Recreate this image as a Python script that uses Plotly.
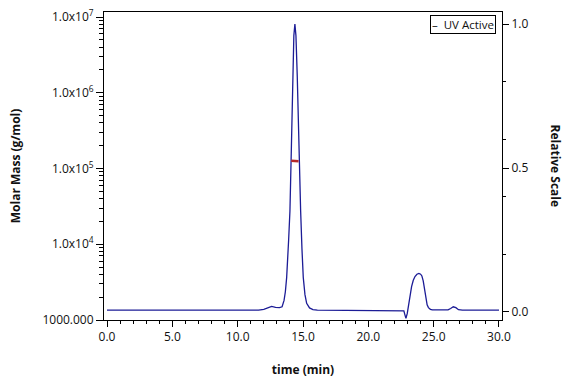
import plotly.graph_objects as go

# UV trace (relative scale, right axis)
uv_time = [0.0, 11.6, 12.0, 12.3, 12.6, 12.9, 13.2, 13.4, 13.55, 13.65, 13.75, 13.9, 14.0,
           14.1, 14.2, 14.3, 14.38, 14.46, 14.56, 14.69, 14.82, 14.92, 15.02, 15.15, 15.28,
           15.5, 15.76, 16.1, 22.6, 22.72, 22.8, 22.88, 22.98, 23.05, 23.18, 23.31, 23.44,
           23.57, 23.72, 23.87, 24.0, 24.1, 24.2, 24.3, 24.4, 24.5, 24.6, 24.75, 24.9, 25.3,
           25.8, 26.1, 26.3, 26.5, 26.7, 26.9, 27.2, 30.0]
uv_rel = [0.006, 0.006, 0.009, 0.015, 0.019, 0.016, 0.015, 0.018, 0.04, 0.07, 0.12, 0.25, 0.35,
          0.55, 0.82, 0.96, 1.0, 0.96, 0.82, 0.53, 0.35, 0.22, 0.12, 0.06, 0.03,
          0.014, 0.008, 0.006, 0.006, 0.004, -0.01, -0.022, -0.005, 0.018, 0.055, 0.088, 0.11,
          0.123, 0.131, 0.134, 0.131, 0.125, 0.108, 0.08, 0.042, 0.025, 0.015, 0.009, 0.007, 0.007,
          0.007, 0.007, 0.012, 0.018, 0.015, 0.008, 0.006, 0.006]

# Molar mass trace (left log axis)
mm_time = [14.1, 14.3, 14.5, 14.66]
mm_value = [1.27e5, 1.26e5, 1.26e5, 1.25e5]

# Tick definitions
x_ticks = [0, 5, 10, 15, 20, 25, 30]
x_tick_labels = ["0.0", "5.0", "10.0", "15.0", "20.0", "25.0", "30.0"]
x_minor = [v for v in range(0, 31) if v % 5 != 0]
mass_ticks = [1e3, 1e4, 1e5, 1e6, 1e7]
mass_tick_labels = ["1000.000", "1.0x10<sup>4</sup>", "1.0x10<sup>5</sup>",
                    "1.0x10<sup>6</sup>", "1.0x10<sup>7</sup>"]
mass_minor = [m * 10 ** e for e in range(3, 7) for m in range(2, 10)]
rel_ticks = [0.0, 0.5, 1.0]
rel_tick_labels = ["0.0", "0.5", "1.0"]
rel_minor = [0.2, 0.4, 0.6, 0.8]

FONT = "Open Sans"

fig = go.Figure()
fig.add_trace(go.Scatter(x=uv_time, y=uv_rel, mode="lines", name="UV Active",
                         line=dict(color="#1c1c96", width=1.3), yaxis="y", showlegend=False))
fig.add_trace(go.Scatter(x=mm_time, y=mm_value, mode="lines", name="Molar Mass",
                         line=dict(color="#b5282a", width=2.5), yaxis="y2", showlegend=False))

fig.update_layout(
    width=576, height=384,
    margin=dict(l=104, r=74, t=12, b=64, autoexpand=False),
    paper_bgcolor="white", plot_bgcolor="white",
    font=dict(family=FONT, size=12, color="#111111"),
    xaxis=dict(range=[-0.23, 30.23], tickvals=x_ticks, ticktext=x_tick_labels, automargin=False,
               ticks="outside", ticklen=6, tickcolor="black", showline=True,
               linecolor="black", linewidth=1, mirror=True, showgrid=False, zeroline=False,
               minor=dict(tickvals=x_minor, ticks="outside", ticklen=3, tickcolor="black"),
               title=dict(text="<b>time (min)</b>", font=dict(size=12), standoff=21)),
    yaxis=dict(side="right", range=[-0.028, 1.042], tickvals=rel_ticks, ticktext=rel_tick_labels,
               automargin=False,
               ticks="outside", ticklen=6, tickcolor="black", showline=True,
               linecolor="black", linewidth=1, showgrid=False, zeroline=False,
               minor=dict(tickvals=rel_minor, ticks="outside", ticklen=3, tickcolor="black")),
    yaxis2=dict(type="log", side="left", overlaying="y", range=[3, 7.066], automargin=False,
                tickvals=mass_ticks, ticktext=mass_tick_labels,
                ticks="outside", ticklen=7, tickcolor="black", showline=True,
                linecolor="black", linewidth=1, showgrid=False, zeroline=False,
                minor=dict(tickvals=mass_minor, ticks="outside", ticklen=4, tickcolor="black"),
                title=dict(text="<b>Molar Mass (g/mol)</b>", font=dict(size=12), standoff=19)),
    annotations=[
        dict(text="<b>Relative Scale</b>", xref="paper", yref="paper", x=1.0, y=0.5,
             xshift=64, textangle=90, showarrow=False, font=dict(size=12)),
        dict(text="\u2013  UV Active", xref="paper", yref="paper", x=0.985, y=0.99,
             xanchor="right", yanchor="top", showarrow=False, font=dict(size=11.5),
             bordercolor="black", borderwidth=1, borderpad=1, bgcolor="white"),
    ],
)

fig.write_html("out.html")
